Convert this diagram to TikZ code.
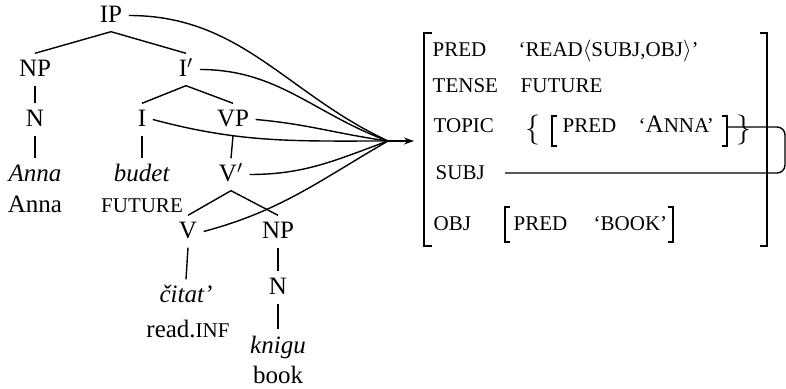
\documentclass[tikz,border=0pt]{standalone}
\usepackage{fontspec}
\setmainfont{Liberation Serif}
\usetikzlibrary{arrows.meta}
\newcommand\fsc[1]{{\fontsize{10.5}{12}\selectfont #1}}

\begin{document}
\begin{tikzpicture}[x=0.5pt, y=0.5pt, line width=0.7pt,
  font=\fontsize{12.5}{14}\selectfont,
  cat/.style={anchor=base, inner xsep=3pt, inner ysep=3pt, text height=8.5pt, text depth=1pt},
  gloss/.style={anchor=base, inner sep=2pt},
  attr/.style={anchor=base west, inner sep=0pt, font=\fontsize{10.5}{12}\selectfont},
  fsbrace/.style={anchor=center, inner sep=0pt, scale=1.25}]
\useasboundingbox (0,0) rectangle (786,-389);
% c-structure
\node[cat] (ip) at (111,-23) {IP};
\node[cat] (np1) at (35,-77) {NP};
\node[cat] (ibar) at (186,-77) {I$'$};
\node[cat] (n1) at (35,-127) {N};
\node[cat] (i) at (142,-127) {I};
\node[cat] (vp) at (233,-127) {VP};
\node[cat] (anna) at (35,-182) {\textit{Anna}};
\node[gloss] (annagl) at (35,-213) {Anna};
\node[cat] (budet) at (142,-182) {\textit{budet}};
\node[gloss] (budetgl) at (142,-213) {\fsc{FUTURE}};
\node[cat] (vbar) at (231,-182) {V$'$};
\node[cat] (v) at (188,-239) {V};
\node[cat] (np2) at (278,-239) {NP};
\node[cat] (citat) at (186,-303) {\textit{čitat’}};
\node[gloss] (citatgl) at (188,-337) {read.\fsc{INF}};
\node[cat] (n2) at (278,-295) {N};
\node[cat] (knigu) at (278,-353) {\textit{knigu}};
\node[gloss] (knigugl) at (278,-383) {book};
\draw (ip.south) -- (np1.north);
\draw (ip.south) -- (ibar.north);
\draw (np1.south) -- (n1.north);
\draw (n1.south) -- (anna.north);
\draw (ibar.south) -- (i.north);
\draw (ibar.south) -- (vp.north);
\draw (i.south) -- (budet.north);
\draw (vp.south) -- (vbar.north);
\draw (vbar.south) -- (v.north);
\draw (vbar.south) -- (np2.north);
\draw (v.south) -- (citat.north);
\draw (np2.south) -- (n2.north);
\draw (n2.south) -- (knigu.north);
% projection
\coordinate (hub) at (388,-141);
\coordinate (fsin) at (414,-141);
\draw (ip.east) to[out=0, in=155] (hub);
\draw (ibar.east) to[out=0, in=160] (hub);
\draw (vp.east) to[out=-5, in=172] (hub);
\draw (i.east) to[out=-15, in=180] (hub);
\draw (vbar.east) to[out=0, in=200] (hub);
\draw (v.east) to[out=15, in=210] (hub);
\draw[-{Stealth[length=5pt, width=3.5pt]}] (hub) -- (fsin);
% f-structure
\draw[line width=0.8pt] (432,-33) -- (424,-33) -- (424,-246) -- (432,-246);
\draw[line width=0.8pt] (760,-33) -- (767,-33) -- (767,-246) -- (760,-246);
\node[attr] (pred) at (432,-57) {PRED};
\node[attr] (predval) at (518,-57) {‘READ$\langle$SUBJ,OBJ$\rangle$’};
\node[attr] (tense) at (432,-93) {TENSE};
\node[attr] (tenseval) at (520,-93) {FUTURE};
\node[attr] (topic) at (433,-133) {TOPIC};
\node[fsbrace] (lbr) at (533,-130) {$\big\{$};
\draw (557,-116) -- (552,-116) -- (552,-146) -- (557,-146);
\node[attr] (tpred) at (562,-133) {PRED};
\node[attr] (tanna) at (638,-133) {‘{\fontsize{12.5}{14}\selectfont A}NNA’};
\draw (722,-116) -- (727,-116) -- (727,-146) -- (722,-146);
\node[fsbrace] (rbr) at (744,-130) {$\big\}$};
\node[attr] (subj) at (435,-180) {SUBJ};
\node[attr] (obj) at (433,-231) {OBJ};
\draw (510,-207) -- (505,-207) -- (505,-242) -- (510,-242);
\node[attr] (opred) at (513,-231) {PRED};
\node[attr] (obook) at (593,-231) {‘BOOK’};
\draw (668,-207) -- (673,-207) -- (673,-242) -- (668,-242);
% structure sharing
\coordinate (topicfs) at (727,-127);
\coordinate (subjval) at (505,-173);
\draw[rounded corners=4pt] (topicfs) -- (785,-127) -- (785,-173) -- (subjval);
\end{tikzpicture}
\end{document}
